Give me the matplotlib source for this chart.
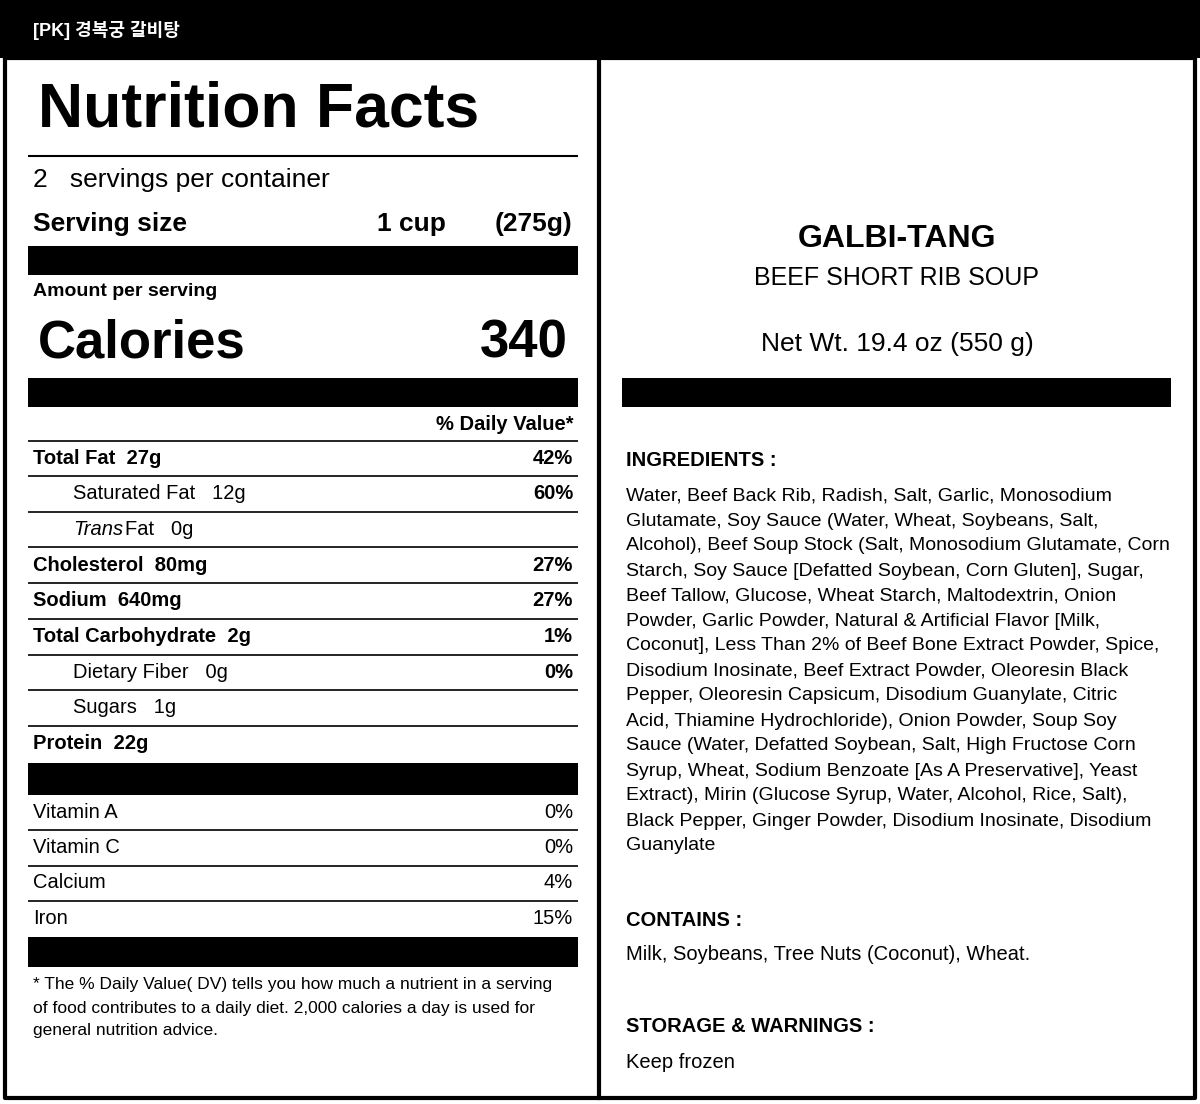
import matplotlib
matplotlib.use("Agg")
import matplotlib.pyplot as plt
from matplotlib.patches import Rectangle

plt.rcParams['font.family'] = ['Liberation Sans', 'Noto Sans CJK KR', 'DejaVu Sans']

title = "[PK] 경복궁 갈비탕"
servings = "2"
serving_size = ("1 cup", "(275g)")
calories = "340"
nutrients = ["Total Fat", "Saturated Fat", "Trans Fat", "Cholesterol", "Sodium",
             "Total Carbohydrate", "Dietary Fiber", "Sugars", "Protein"]
amounts = ["27g", "12g", "0g", "80mg", "640mg", "2g", "0g", "1g", "22g"]
dv = ["42%", "60%", "", "27%", "27%", "1%", "0%", "", ""]
bold_row = [True, False, False, True, True, True, False, False, True]
vitamins = ["Vitamin A", "Vitamin C", "Calcium", "Iron"]
vit_dv = ["0%", "0%", "4%", "15%"]
footnote = ["* The % Daily Value( DV) tells you how much a nutrient in a serving",
            "of food contributes to a daily diet. 2,000 calories a day is used for",
            "general nutrition advice."]
product = "GALBI-TANG"
subtitle = "BEEF SHORT RIB SOUP"
net_wt = "Net Wt. 19.4 oz (550 g)"
ingredients = [
    "Water, Beef Back Rib, Radish, Salt, Garlic, Monosodium",
    "Glutamate, Soy Sauce (Water, Wheat, Soybeans, Salt,",
    "Alcohol), Beef Soup Stock (Salt, Monosodium Glutamate, Corn",
    "Starch, Soy Sauce [Defatted Soybean, Corn Gluten], Sugar,",
    "Beef Tallow, Glucose, Wheat Starch, Maltodextrin, Onion",
    "Powder, Garlic Powder, Natural & Artificial Flavor [Milk,",
    "Coconut], Less Than 2% of Beef Bone Extract Powder, Spice,",
    "Disodium Inosinate, Beef Extract Powder, Oleoresin Black",
    "Pepper, Oleoresin Capsicum, Disodium Guanylate, Citric",
    "Acid, Thiamine Hydrochloride), Onion Powder, Soup Soy",
    "Sauce (Water, Defatted Soybean, Salt, High Fructose Corn",
    "Syrup, Wheat, Sodium Benzoate [As A Preservative], Yeast",
    "Extract), Mirin (Glucose Syrup, Water, Alcohol, Rice, Salt),",
    "Black Pepper, Ginger Powder, Disodium Inosinate, Disodium",
    "Guanylate"]
contains = "Milk, Soybeans, Tree Nuts (Coconut), Wheat."
storage = "Keep frozen"

fig = plt.figure(figsize=(12, 11.04), dpi=100)
ax = fig.add_axes([0, 0, 1, 1])
ax.set_xlim(0, 1200); ax.set_ylim(1104, 0); ax.axis('off')

def bar(x0, y0, x1, y1):
    ax.add_patch(Rectangle((x0, y0), x1 - x0, y1 - y0, color='black', lw=0))

def hline(y, x0=28, x1=578, lw=1.2):
    ax.plot([x0, x1], [y, y], color='black', lw=lw, solid_capstyle='butt')

def t(x, y, s, size, bold=False, ha='left', color='black', style='normal'):
    ax.text(x, y, s, fontsize=size, fontweight='bold' if bold else 'normal',
            ha=ha, va='center', color=color, style=style)

# frame
bar(0, 0, 1200, 58)
t(33, 30, title, 13, bold=True, color='white')
ax.plot([5, 5, 1195, 1195, 5], [58, 1098, 1098, 58, 58], color='black', lw=3)
ax.plot([599, 599], [58, 1098], color='black', lw=3)

# nutrition facts
t(38, 110, "Nutrition Facts", 45, bold=True)
hline(156, lw=1.5)
t(33, 180, servings + "   servings per container", 19)
t(33, 224, "Serving size", 19, bold=True)
t(377, 224, serving_size[0], 19, bold=True)
t(572, 224, serving_size[1], 19, bold=True, ha='right')
bar(28, 246, 578, 275)
t(33, 292, "Amount per serving", 14, bold=True)
t(38, 343, "Calories", 38, bold=True)
t(568, 343, calories, 38, bold=True, ha='right')
bar(28, 378, 578, 407)
t(573, 424, "% Daily Value*", 14.5, bold=True, ha='right')
hline(441)

y = 458
for n, a, d, b in zip(nutrients, amounts, dv, bold_row):
    x = 33 if b else 73
    if n == "Trans Fat":
        ax.text(x, y, "Trans", fontsize=14.5, style='italic', va='center')
        t(x + 52, y, "Fat   " + a, 14.5)
    else:
        t(x, y, n + ("  " if b else "   ") + a, 14.5, bold=b)
        ax.text(x, y, n, fontsize=14.5, fontweight='bold' if b else 'normal', va='center', alpha=0)
    if d:
        t(573, y, d, 14.5, bold=True, ha='right')
    if n != "Protein":
        hline(y + 18, x0=28 if b or n == "Sugars" else 28)
    y += 35.7
bar(28, 763, 578, 795)
y = 812
for i, (v, d) in enumerate(zip(vitamins, vit_dv)):
    t(33, y, v, 14.5)
    t(573, y, d, 14.5, ha='right')
    if i < 3:
        hline(y + 18)
    y += 35.5
bar(28, 937, 578, 967)
for i, line in enumerate(footnote):
    t(33, 985 + 23 * i, line, 12.5)

# right panel
t(897, 239, product, 23, bold=True, ha='center')
t(897, 278, subtitle, 18, ha='center')
t(897, 344, net_wt, 19, ha='center')
bar(622, 378, 1171, 407)
t(626, 460, "INGREDIENTS :", 14.5, bold=True)
for i, line in enumerate(ingredients):
    t(626, 496 + 25 * i, line, 14)
t(626, 920, "CONTAINS :", 14.5, bold=True)
t(626, 954, contains, 14.5)
t(626, 1027, "STORAGE & WARNINGS :", 14.5, bold=True)
t(626, 1062, storage, 14.5)

fig.savefig("out.png", dpi=100)
